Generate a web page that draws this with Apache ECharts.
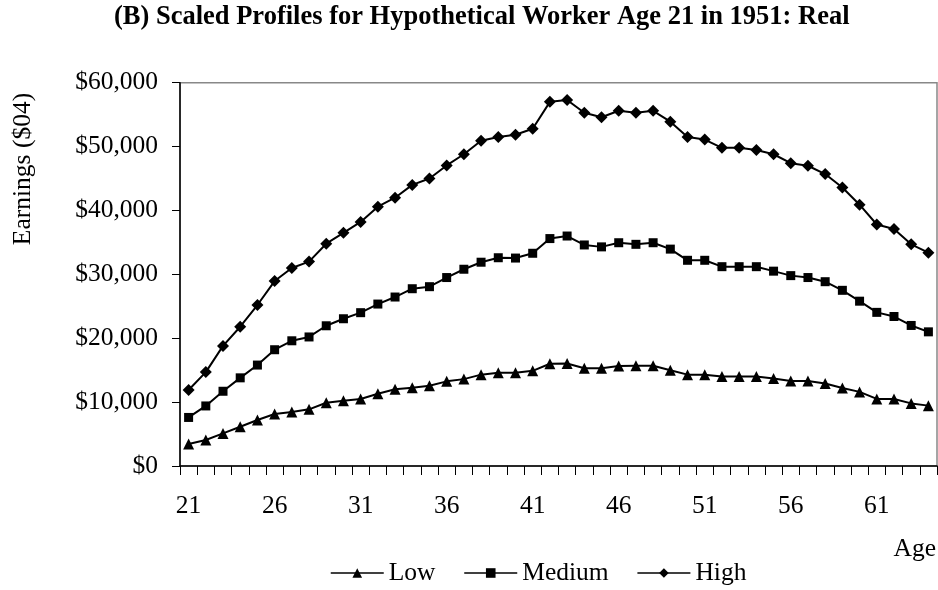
<!DOCTYPE html>
<html>
<head>
<meta charset="utf-8">
<script src="https://cdn.jsdelivr.net/npm/echarts@6/dist/echarts.min.js"></script>
<style>
html,body{margin:0;padding:0;background:#fff;}
#chart{width:938px;height:590px;}
</style>
</head>
<body>
<div id="chart"></div>
<script>
const ages = [21,22,23,24,25,26,27,28,29,30,31,32,33,34,35,36,37,38,39,40,41,42,43,44,45,46,47,48,49,50,51,52,53,54,55,56,57,58,59,60,61,62,63,64];
const lowValues = [3450,4070,5100,6150,7200,8140,8450,8870,9900,10200,10500,11300,12000,12260,12570,13250,13600,14300,14600,14600,14900,16000,16050,15300,15300,15650,15700,15700,15000,14300,14300,14000,14000,14000,13700,13300,13300,12900,12200,11600,10500,10500,9800,9450];
const mediumValues = [7600,9400,11700,13800,15800,18200,19600,20200,21950,23050,24000,25350,26450,27750,28070,29500,30800,31900,32600,32550,33300,35600,36000,34600,34300,34950,34700,34950,33950,32200,32200,31200,31200,31200,30500,29800,29500,28850,27500,25800,24050,23400,22000,21000];
const highValues = [11900,14700,18800,21800,25200,28950,31000,32000,34800,36500,38200,40600,42000,44000,45000,47050,48800,50900,51500,51850,52800,57000,57300,55300,54600,55600,55300,55600,53900,51500,51100,49800,49800,49450,48800,47400,47000,45700,43600,40900,37800,37100,34700,33400];
const yTicks = {min: 0, max: 60000, interval: 10000};
const seriesNames = ['Low','Medium','High'];

const FONT = '"Liberation Serif", "Times New Roman", serif';
const chart = echarts.init(document.getElementById('chart'), null, {renderer:'canvas'});

function fmt(v){ return '$' + v.toLocaleString('en-US'); }

const lineStyle = {color:'#000', width:2};
function mkSeries(name, data, symbol, size){
  return {
    name: name, type:'line', data: data, symbol: symbol, symbolSize: size,
    showAllSymbol: true,
    lineStyle: lineStyle, itemStyle:{color:'#000'}, animation:false, z: 3
  };
}

chart.setOption({
  animation:false,
  title:{
    text:'(B) Scaled Profiles for Hypothetical Worker Age 21 in 1951: Real',
    left:114, top:4, padding:0,
    textStyle:{fontFamily:FONT, fontWeight:'bold', fontSize:26.5, color:'#000'}
  },
  grid:{left:180, right:1, top:82.7, bottom:124, show:true, borderColor:'#888', borderWidth:1.5, backgroundColor:'transparent', outerBoundsMode:'none'},
  legend:{
    data: seriesNames, left:330, top:560, padding:0,
    itemWidth:53, itemHeight:12, itemGap:28,
    textStyle:{fontFamily:FONT, fontSize:25.5, color:'#000'},
    lineStyle:{width:1.5}
  },
  xAxis:{
    type:'category', data: ages, boundaryGap:true,
    axisLine:{show:true, lineStyle:{color:'#000', width:1.5}},
    axisTick:{show:true, interval:0, length:9, lineStyle:{color:'#000', width:1}},
    axisLabel:{interval:4, margin:27, fontFamily:FONT, fontSize:25.5, color:'#000'},
    splitLine:{show:false}
  },
  yAxis:{
    type:'value', min:yTicks.min, max:yTicks.max, interval:yTicks.interval,
    axisLine:{show:true, lineStyle:{color:'#000', width:1.5}},
    axisTick:{show:true, length:8, lineStyle:{color:'#000', width:1}},
    axisLabel:{margin:22, fontFamily:FONT, fontSize:25.5, color:'#000', formatter: fmt},
    splitLine:{show:false}
  },
  graphic:[
    {type:'text', x:23, y:169, rotation:Math.PI/2,
     style:{text:'Earnings ($04)', font:'25.5px ' + FONT, fill:'#000', align:'center', verticalAlign:'middle'}},
    {type:'text', x:936, y:549,
     style:{text:'Age', font:'25.5px ' + FONT, fill:'#000', align:'right', verticalAlign:'middle'}}
  ],
  series:[
    mkSeries(seriesNames[0], lowValues, 'triangle', 11),
    mkSeries(seriesNames[1], mediumValues, 'rect', 9),
    mkSeries(seriesNames[2], highValues, 'diamond', 12)
  ]
});
</script>
</body>
</html>
